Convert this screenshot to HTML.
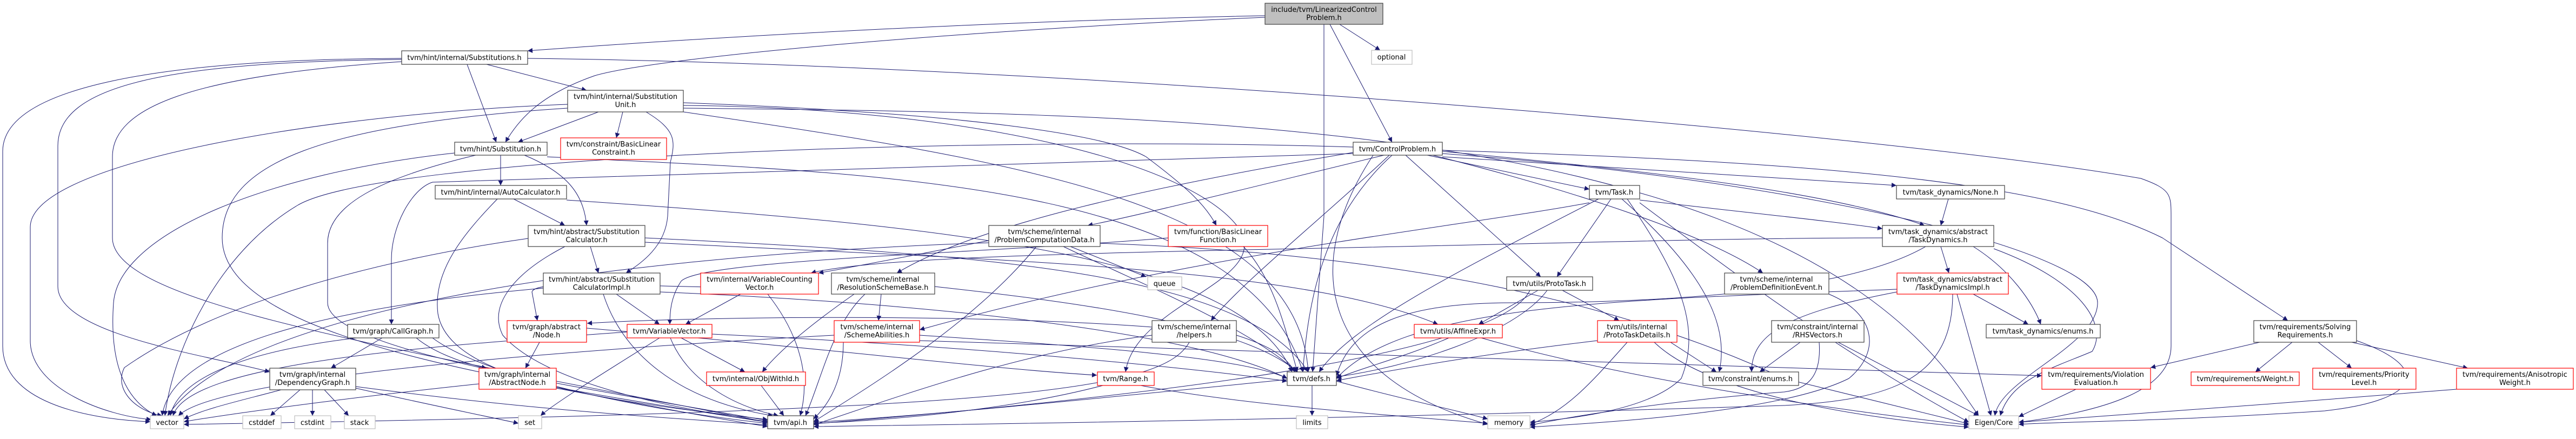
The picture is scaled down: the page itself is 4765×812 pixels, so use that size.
<!DOCTYPE html>
<html><head><meta charset="utf-8"><style>
html,body{margin:0;padding:0;background:#fff;}
svg{display:block;}
text{font-family:"DejaVu Sans","Liberation Sans",sans-serif;font-size:13px;fill:#000;text-anchor:middle;}
.e{fill:none;stroke:#191970;stroke-width:1;marker-end:url(#a);}
.n{fill:#fff;stroke:#404040;stroke-width:1.2;}
.r{fill:#fff;stroke:#ff0000;stroke-width:1.2;}
.g{fill:#fff;stroke:#bfbfbf;stroke-width:1.2;}
</style></head><body>
<svg width="4765" height="812" viewBox="0 0 4765 812" xmlns="http://www.w3.org/2000/svg">
<defs><marker id="a" viewBox="0 0 10 10" refX="10" refY="5" markerWidth="12" markerHeight="9" markerUnits="userSpaceOnUse" orient="auto"><path d="M0,0 L10,5 L0,10z" fill="#191970"/></marker></defs>
<g>
<path class="e" d="M2478,45 L2553,93"/>
<path class="e" d="M2460,45 L2575,263"/>
<path class="e" d="M2449,45 L2449,400 L2428,688"/>
<path class="e" d="M2340,29 C1800,40 1300,70 976,94"/>
<path class="e" d="M2340,32 C1700,60 1200,110 1100,140 C1000,175 960,220 935,263"/>
<path class="e" d="M864,119 L918,263"/>
<path class="e" d="M900,119 L1085,167"/>
<path class="e" d="M743,108 C300,110 5,160 5,280 L5,640 C5,740 150,775 278,780"/>
<path class="e" d="M743,110 C300,115 107,160 107,270 L107,530 C107,620 400,660 499,688"/>
<path class="e" d="M743,114 C350,140 208,200 208,290 L208,440 C208,560 700,640 1420,781"/>
<path class="e" d="M976,108 C2000,120 3500,250 3960,330 C4016,350 4016,360 4016,400 L4016,640 C4016,720 3900,760 3734,781"/>
<path class="e" d="M1107,207 L958,263"/>
<path class="e" d="M1152,207 L1140,255"/>
<path class="e" d="M1195,207 C1250,240 1250,260 1240,300 L1235,400 C1230,460 1180,490 1158,505"/>
<path class="e" d="M1050,193 C600,210 56,300 56,420 L56,630 C56,720 200,770 280,776"/>
<path class="e" d="M1050,200 C600,230 411,300 411,440 C411,620 900,700 1420,781"/>
<path class="e" d="M1264,207 C1900,300 2400,380 2420,688"/>
<path class="e" d="M1264,190 C1800,210 2050,250 2120,290 C2200,350 2230,380 2250,417"/>
<path class="e" d="M1264,195 C1800,200 2200,300 2290,420 C2360,520 2100,560 2082,688"/>
<path class="e" d="M1264,200 C2200,210 3300,220 3640,740 L3660,769"/>
<path class="e" d="M926,287 L926,343"/>
<path class="e" d="M970,287 C1050,320 1080,360 1085,417"/>
<path class="e" d="M841,283 C500,320 220,430 210,560 C200,700 250,750 290,769"/>
<path class="e" d="M880,287 C700,330 606,380 606,450 L606,560 C606,650 1100,720 1420,778"/>
<path class="e" d="M1012,290 C1600,320 2300,330 2410,688"/>
<path class="e" d="M950,368 L1045,417"/>
<path class="e" d="M920,368 C860,430 800,500 810,580 C830,700 1100,740 1420,776"/>
<path class="e" d="M1048,370 C1800,420 2300,480 2390,688"/>
<path class="e" d="M1092,456 L1107,505"/>
<path class="e" d="M977,441 C700,480 400,560 230,680 C210,720 250,760 300,769"/>
<path class="e" d="M1045,456 C960,500 900,560 930,620 C1000,700 1200,750 1420,780"/>
<path class="e" d="M1193,440 C1800,470 2300,500 2420,688"/>
<path class="e" d="M1193,448 C1800,480 2400,490 2660,600"/>
<path class="e" d="M1140,544 L1220,600"/>
<path class="e" d="M1005,533 C700,560 320,620 300,769"/>
<path class="e" d="M1116,544 C1150,650 1250,740 1430,769"/>
<path class="e" d="M1221,540 C1700,560 2200,610 2381,700"/>
<path class="e" d="M2640,287 L2940,350"/>
<path class="e" d="M2600,287 L2850,512"/>
<path class="e" d="M2668,290 C3000,310 3300,330 3508,343"/>
<path class="e" d="M2668,280 C3100,320 3400,360 3560,417"/>
<path class="e" d="M2668,278 C3400,300 3800,340 4000,440 L4232,593"/>
<path class="e" d="M2650,287 C2900,350 3150,430 3261,505"/>
<path class="e" d="M2560,287 C2300,350 2100,400 2012,417"/>
<path class="e" d="M2503,282 C2100,350 1800,420 1659,505"/>
<path class="e" d="M2570,287 C2450,400 2300,520 2240,593"/>
<path class="e" d="M2575,287 C2450,400 2420,550 2410,688"/>
<path class="e" d="M2503,284 L800,337 C760,350 724,420 724,480 L724,600"/>
<path class="e" d="M2503,272 C1800,250 700,290 550,380 C400,470 320,650 305,769"/>
<path class="e" d="M2540,287 C2400,500 2450,700 2752,785"/>
<path class="e" d="M2668,284 C3300,330 3880,460 3880,560 C3880,640 3700,700 3690,769"/>
<path class="e" d="M2980,368 L2880,512"/>
<path class="e" d="M3033,370 C3200,390 3400,410 3482,423"/>
<path class="e" d="M2957,368 C2700,500 2500,600 2440,688"/>
<path class="e" d="M3000,368 C3150,500 3200,600 3180,688"/>
<path class="e" d="M3010,368 C3100,500 3150,600 3110,700 C3050,760 2900,775 2830,781"/>
<path class="e" d="M3033,375 C3200,500 3400,650 3642,781"/>
<path class="e" d="M2940,375 C2700,420 2200,470 1701,610"/>
<path class="e" d="M2845,537 L2735,600"/>
<path class="e" d="M2890,537 L2995,593"/>
<path class="e" d="M2862,537 C2800,620 2600,680 2472,697"/>
<path class="e" d="M2830,537 C2780,640 2300,720 1505,784"/>
<path class="e" d="M1980,456 L2120,512"/>
<path class="e" d="M1829,445 C1700,470 1600,490 1514,505"/>
<path class="e" d="M1829,449 C1200,470 450,560 310,769"/>
<path class="e" d="M1917,456 C1800,600 1600,720 1505,780"/>
<path class="e" d="M1967,456 C2100,520 2300,600 2400,688"/>
<path class="e" d="M2035,450 C2600,470 3000,560 3300,700 L3642,784"/>
<path class="e" d="M2161,440 C1800,470 1300,480 1260,520 C1240,550 1239,580 1239,600"/>
<path class="e" d="M2300,456 C2360,520 2380,620 2400,688"/>
<path class="e" d="M1370,544 L1268,600"/>
<path class="e" d="M1420,544 C1480,620 1500,700 1480,769"/>
<path class="e" d="M1630,544 L1625,593"/>
<path class="e" d="M1580,544 C1500,600 1440,650 1410,688"/>
<path class="e" d="M1600,544 C1540,600 1520,700 1490,769"/>
<path class="e" d="M1729,530 C2000,560 2300,600 2400,688"/>
<path class="e" d="M1560,633 C1560,720 1520,760 1505,775"/>
<path class="e" d="M1701,620 C2000,640 2300,660 2381,700"/>
<path class="e" d="M1543,620 C1000,650 400,700 330,769"/>
<path class="e" d="M1514,530 C1300,540 990,510 984,540 L994,593"/>
<path class="e" d="M2131,605 C1800,580 1300,585 1086,598"/>
<path class="e" d="M1260,625 L1378,688"/>
<path class="e" d="M1220,625 C1100,700 1020,750 1000,769"/>
<path class="e" d="M1240,625 C1270,700 1350,750 1440,769"/>
<path class="e" d="M1160,614 C800,640 350,670 320,769"/>
<path class="e" d="M1317,618 C1800,640 2200,680 2381,705"/>
<path class="e" d="M1408,713 L1450,769"/>
<path class="e" d="M998,633 L972,681"/>
<path class="e" d="M707,625 L612,681"/>
<path class="e" d="M770,625 C800,650 850,670 900,681"/>
<path class="e" d="M660,625 C450,650 330,700 315,769"/>
<path class="e" d="M800,625 C900,700 1200,760 1420,783"/>
<path class="e" d="M520,721 C450,740 380,755 340,775"/>
<path class="e" d="M555,721 L500,769"/>
<path class="e" d="M578,721 L578,769"/>
<path class="e" d="M600,721 L645,769"/>
<path class="e" d="M658,715 C1000,760 1200,770 1420,786"/>
<path class="e" d="M658,718 C800,750 900,770 959,783"/>
<path class="e" d="M886,710 C600,740 400,770 340,780"/>
<path class="e" d="M1029,718 C1200,750 1300,770 1420,789"/>
<path class="e" d="M2287,620 C2350,640 2380,660 2395,688"/>
<path class="e" d="M2131,620 C1900,650 1700,720 1505,786"/>
<path class="e" d="M2200,633 C2150,720 1900,760 340,785"/>
<path class="e" d="M2040,713 C1900,750 1700,775 1505,783"/>
<path class="e" d="M2110,713 C2300,750 2600,770 2752,783"/>
<path class="e" d="M2427,713 L2427,769"/>
<path class="e" d="M2472,705 C2600,740 2700,760 2752,775"/>
<path class="e" d="M2381,702 C2000,740 1700,770 1505,781"/>
<path class="e" d="M1000,600 C1500,640 1800,680 2029,694"/>
<path class="e" d="M2680,625 C2600,660 2520,680 2472,700"/>
<path class="e" d="M2740,625 C3000,700 3400,760 3642,786"/>
<path class="e" d="M2955,630 C2700,660 2550,690 2472,704"/>
<path class="e" d="M3010,633 C2950,700 2900,760 2830,785"/>
<path class="e" d="M3060,633 C3150,720 3400,770 3642,790"/>
<path class="e" d="M3090,633 L3175,688"/>
<path class="e" d="M3330,633 L3255,688"/>
<path class="e" d="M3400,633 L3660,769"/>
<path class="e" d="M3365,633 C3370,700 3340,720 3300,725 C3100,740 2900,770 2830,787"/>
<path class="e" d="M3383,544 C3470,580 3480,650 3420,700 C3300,760 3000,780 2830,790"/>
<path class="e" d="M3604,368 L3590,417"/>
<path class="e" d="M3590,456 L3605,505"/>
<path class="e" d="M3650,456 C3720,500 3760,560 3775,600"/>
<path class="e" d="M3688,460 C3850,520 3900,600 3870,650 C3800,680 3720,700 3700,769"/>
<path class="e" d="M3562,456 C3400,550 3000,560 2800,560 C2600,560 2500,600 2472,695"/>
<path class="e" d="M3482,440 C3200,440 2900,450 2400,460 C1900,470 1600,480 1500,505"/>
<path class="e" d="M3650,544 L3752,600"/>
<path class="e" d="M3620,544 L3683,769"/>
<path class="e" d="M3509,540 C3300,580 3240,620 3240,688"/>
<path class="e" d="M3509,535 C3000,555 2600,560 2472,700"/>
<path class="e" d="M3612,544 C3612,700 3500,740 3300,750 C2500,775 1800,785 1505,789"/>
<path class="e" d="M1700,630 C2500,660 3200,675 3777,695"/>
<path class="e" d="M3840,720 L3734,771"/>
<path class="e" d="M4180,633 L3978,680"/>
<path class="e" d="M4240,633 L4172,688"/>
<path class="e" d="M4288,633 L4350,681"/>
<path class="e" d="M4350,633 L4565,681"/>
<path class="e" d="M4359,630 C4500,680 4480,740 4300,760 C4000,780 3800,780 3734,785"/>
<path class="e" d="M4544,720 C4300,740 3900,770 3734,781"/>
</g>
<g>
<rect class="n" x="2340" y="6" width="218" height="39" style="fill:#bfbfbf"/><text x="2449" y="22">include/tvm/LinearizedControl</text><text x="2449" y="37">Problem.h</text>
<rect class="n" x="743" y="94" width="233" height="25"/><text x="859" y="111">tvm/hint/internal/Substitutions.h</text>
<rect class="g" x="2537" y="93" width="75" height="26"/><text x="2574" y="110">optional</text>
<rect class="n" x="1050" y="167" width="214" height="40"/><text x="1157" y="183">tvm/hint/internal/Substitution</text><text x="1157" y="198">Unit.h</text>
<rect class="n" x="841" y="263" width="171" height="24"/><text x="926" y="280">tvm/hint/Substitution.h</text>
<rect class="r" x="1037" y="255" width="196" height="40"/><text x="1135" y="271">tvm/constraint/BasicLinear</text><text x="1135" y="286">Constraint.h</text>
<rect class="n" x="2503" y="263" width="165" height="24"/><text x="2585" y="280">tvm/ControlProblem.h</text>
<rect class="n" x="805" y="343" width="243" height="25"/><text x="926" y="360">tvm/hint/internal/AutoCalculator.h</text>
<rect class="n" x="2940" y="343" width="93" height="25"/><text x="2986" y="360">tvm/Task.h</text>
<rect class="n" x="3508" y="343" width="200" height="25"/><text x="3608" y="360">tvm/task_dynamics/None.h</text>
<rect class="n" x="977" y="417" width="216" height="39"/><text x="1085" y="433">tvm/hint/abstract/Substitution</text><text x="1085" y="448">Calculator.h</text>
<rect class="n" x="1829" y="417" width="206" height="39"/><text x="1932" y="433">tvm/scheme/internal</text><text x="1932" y="448">/ProblemComputationData.h</text>
<rect class="r" x="2161" y="417" width="184" height="39"/><text x="2253" y="433">tvm/function/BasicLinear</text><text x="2253" y="448">Function.h</text>
<rect class="n" x="3482" y="417" width="206" height="39"/><text x="3585" y="433">tvm/task_dynamics/abstract</text><text x="3585" y="448">/TaskDynamics.h</text>
<rect class="n" x="1005" y="505" width="216" height="39"/><text x="1113" y="521">tvm/hint/abstract/Substitution</text><text x="1113" y="536">CalculatorImpl.h</text>
<rect class="r" x="1296" y="505" width="218" height="39"/><text x="1405" y="521">tvm/internal/VariableCounting</text><text x="1405" y="536">Vector.h</text>
<rect class="n" x="1538" y="505" width="191" height="39"/><text x="1633" y="521">tvm/scheme/internal</text><text x="1633" y="536">/ResolutionSchemeBase.h</text>
<rect class="g" x="2123" y="512" width="63" height="24"/><text x="2154" y="529">queue</text>
<rect class="n" x="2787" y="512" width="159" height="25"/><text x="2866" y="529">tvm/utils/ProtoTask.h</text>
<rect class="n" x="3190" y="505" width="193" height="39"/><text x="3286" y="521">tvm/scheme/internal</text><text x="3286" y="536">/ProblemDefinitionEvent.h</text>
<rect class="r" x="3509" y="505" width="206" height="39"/><text x="3612" y="521">tvm/task_dynamics/abstract</text><text x="3612" y="536">/TaskDynamicsImpl.h</text>
<rect class="n" x="643" y="600" width="169" height="25"/><text x="727" y="617">tvm/graph/CallGraph.h</text>
<rect class="r" x="938" y="593" width="147" height="40"/><text x="1011" y="609">tvm/graph/abstract</text><text x="1011" y="624">/Node.h</text>
<rect class="r" x="1160" y="600" width="157" height="25"/><text x="1238" y="617">tvm/VariableVector.h</text>
<rect class="r" x="1543" y="593" width="158" height="40"/><text x="1622" y="609">tvm/scheme/internal</text><text x="1622" y="624">/SchemeAbilities.h</text>
<rect class="n" x="2131" y="593" width="156" height="40"/><text x="2209" y="609">tvm/scheme/internal</text><text x="2209" y="624">/helpers.h</text>
<rect class="r" x="2616" y="600" width="163" height="25"/><text x="2697" y="617">tvm/utils/AffineExpr.h</text>
<rect class="r" x="2955" y="593" width="147" height="40"/><text x="3028" y="609">tvm/utils/internal</text><text x="3028" y="624">/ProtoTaskDetails.h</text>
<rect class="n" x="3277" y="593" width="171" height="40"/><text x="3362" y="609">tvm/constraint/internal</text><text x="3362" y="624">/RHSVectors.h</text>
<rect class="n" x="3674" y="600" width="211" height="25"/><text x="3779" y="617">tvm/task_dynamics/enums.h</text>
<rect class="n" x="4169" y="593" width="190" height="40"/><text x="4264" y="609">tvm/requirements/Solving</text><text x="4264" y="624">Requirements.h</text>
<rect class="n" x="499" y="681" width="159" height="40"/><text x="578" y="697">tvm/graph/internal</text><text x="578" y="712">/DependencyGraph.h</text>
<rect class="r" x="886" y="681" width="143" height="39"/><text x="957" y="697">tvm/graph/internal</text><text x="957" y="712">/AbstractNode.h</text>
<rect class="r" x="1307" y="688" width="183" height="25"/><text x="1398" y="705">tvm/internal/ObjWithId.h</text>
<rect class="r" x="2030" y="688" width="105" height="25"/><text x="2082" y="705">tvm/Range.h</text>
<rect class="n" x="2381" y="688" width="91" height="25"/><text x="2426" y="705">tvm/defs.h</text>
<rect class="n" x="3150" y="688" width="177" height="25"/><text x="3238" y="705">tvm/constraint/enums.h</text>
<rect class="r" x="3777" y="681" width="201" height="39"/><text x="3877" y="697">tvm/requirements/Violation</text><text x="3877" y="712">Evaluation.h</text>
<rect class="r" x="4053" y="688" width="200" height="25"/><text x="4153" y="705">tvm/requirements/Weight.h</text>
<rect class="r" x="4278" y="681" width="191" height="39"/><text x="4373" y="697">tvm/requirements/Priority</text><text x="4373" y="712">Level.h</text>
<rect class="r" x="4544" y="681" width="216" height="39"/><text x="4652" y="697">tvm/requirements/Anisotropic</text><text x="4652" y="712">Weight.h</text>
<rect class="g" x="278" y="769" width="62" height="24"/><text x="309" y="786">vector</text>
<rect class="g" x="449" y="769" width="71" height="24"/><text x="484" y="786">cstddef</text>
<rect class="g" x="545" y="769" width="67" height="24"/><text x="578" y="786">cstdint</text>
<rect class="g" x="637" y="769" width="57" height="24"/><text x="665" y="786">stack</text>
<rect class="g" x="959" y="769" width="43" height="24"/><text x="980" y="786">set</text>
<rect class="n" x="1420" y="769" width="85" height="24"/><text x="1462" y="786">tvm/api.h</text>
<rect class="g" x="2398" y="769" width="58" height="24"/><text x="2427" y="786">limits</text>
<rect class="g" x="2752" y="769" width="78" height="24"/><text x="2791" y="786">memory</text>
<rect class="g" x="3642" y="769" width="92" height="24"/><text x="3688" y="786">Eigen/Core</text>
</g>
</svg>
</body></html>
